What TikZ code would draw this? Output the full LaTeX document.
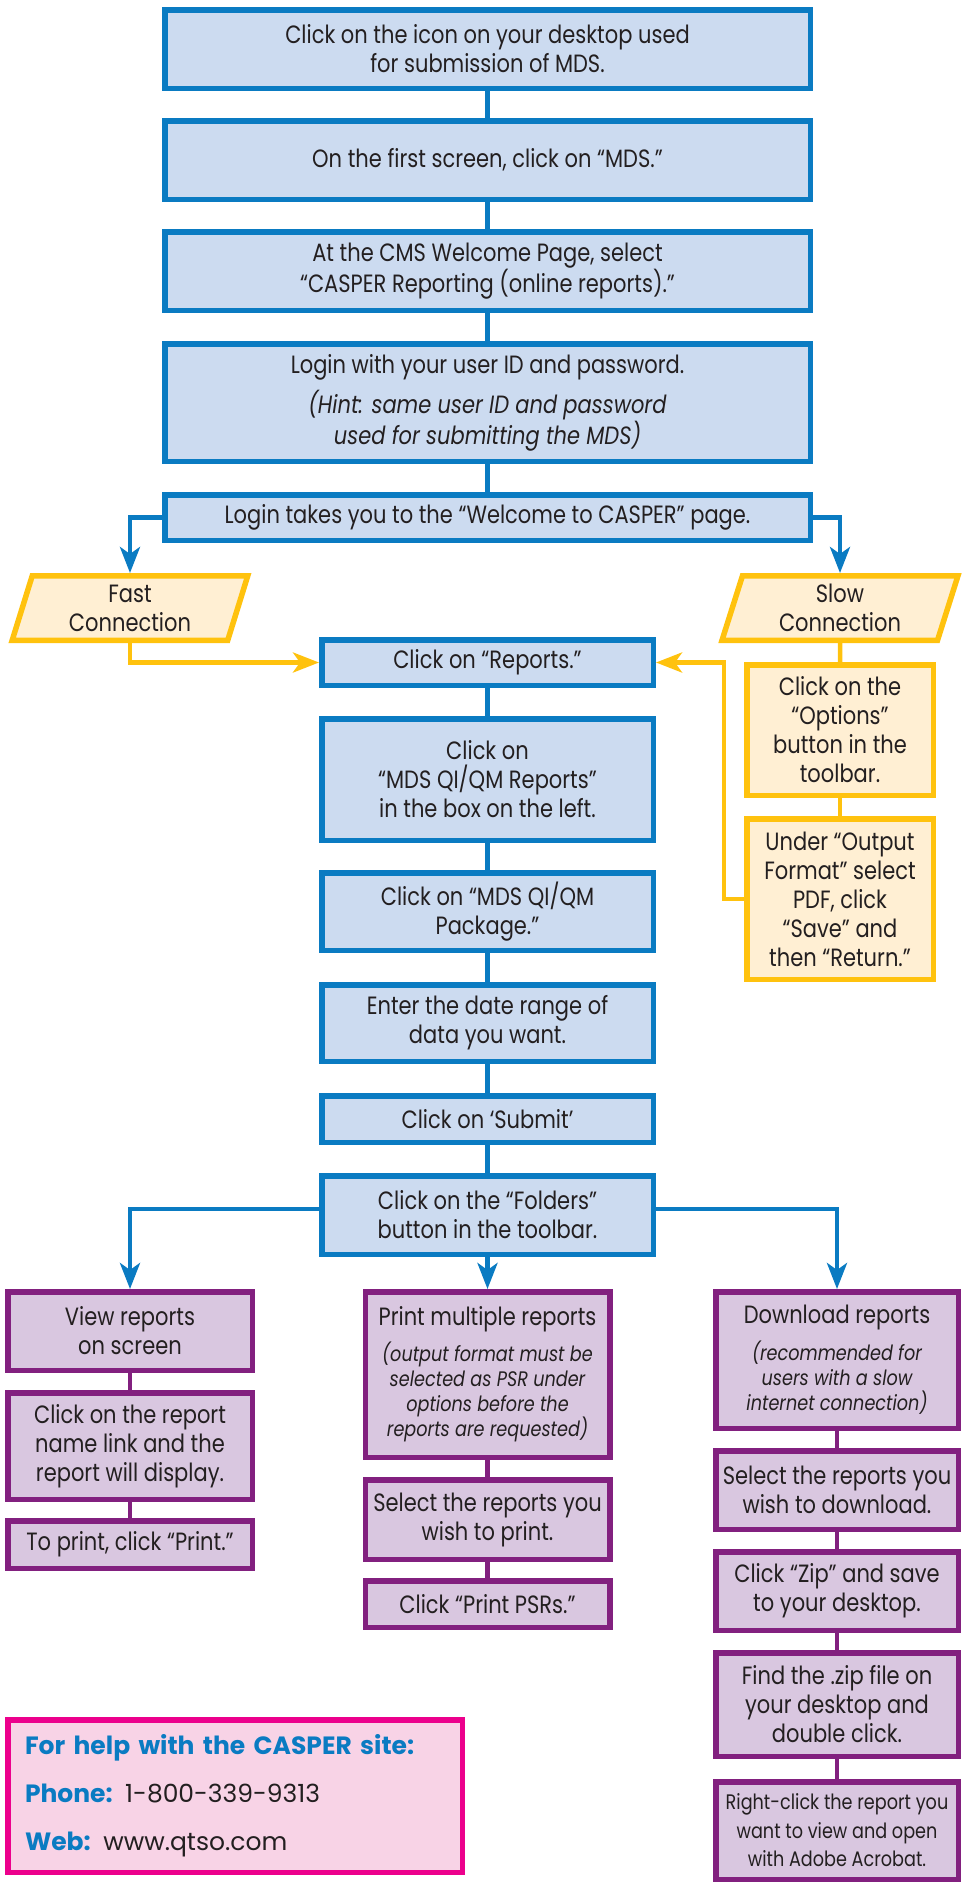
\documentclass[tikz,border=0pt]{standalone}
\usepackage{fontspec}
\setmainfont{Poppins}[FakeStretch=0.84]
\newfontfamily\helpfamily{Poppins}[FakeStretch=1.0]
\usetikzlibrary{positioning, arrows.meta, shapes.geometric}

\definecolor{casperblue}{HTML}{0A7BC2}
\definecolor{bluefill}{HTML}{CCDBF0}
\definecolor{gold}{HTML}{FFC20E}
\definecolor{goldfill}{HTML}{FFEFD3}
\definecolor{plum}{HTML}{82207F}
\definecolor{plumfill}{HTML}{D9C7E0}
\definecolor{helppink}{HTML}{EC008C}
\definecolor{helpfill}{HTML}{F8D3E6}
\definecolor{ink}{HTML}{231F20}

\newcommand{\stepfont}{\fontsize{25}{29}\selectfont}
\newcommand{\hintfont}{\fontsize{21}{25}\selectfont\itshape}
\newcommand{\smallstep}{\fontsize{21}{28.5}\selectfont}
\newcommand{\helplabel}[1]{\textbf{\textcolor{casperblue}{#1}}}

\tikzset{every node/.style={text=ink, font=\stepfont, align=center, inner sep=0pt}, % Text of every box
bluebox/.style={ % Steps up to the Welcome page
draw=casperblue, fill=bluefill, line width=5.5pt, minimum width=645.5pt},
narrowbox/.style={bluebox, minimum width=331.5pt}, % Steps of the report part
speedbox/.style={ % Fast / slow connection
trapezium, trapezium left angle=75, trapezium right angle=105, trapezium stretches=true,
draw=gold, fill=goldfill, line width=5.5pt, minimum width=236pt, minimum height=64.5pt},
optionbox/.style={draw=gold, fill=goldfill, line width=5.5pt, minimum width=186.5pt},
folderbox/.style={draw=plum, fill=plumfill, line width=5.5pt, minimum width=244.5pt},
bluelink/.style={draw=casperblue, line width=4.5pt},
bluearrow/.style={bluelink, -{Stealth[length=26pt, width=20pt, inset=7pt]}},
goldlink/.style={draw=gold, line width=4.5pt},
goldarrow/.style={goldlink, -{Stealth[length=26pt, width=20pt, inset=7pt]}},
plumlink/.style={draw=plum, line width=4.5pt}}

\begin{document}
\begin{tikzpicture}
    \useasboundingbox (0pt,0pt) rectangle (970pt,-1883pt);

    \node[bluebox, minimum height=78.5pt] (b1) at (487.5pt,-49pt) {Click on the icon on your desktop used\\for submission of MDS.};
    \node[bluebox, minimum height=78.5pt, below=27pt of b1] (b2) {On the first screen, click on “MDS.”};
    \node[bluebox, minimum height=78.5pt, below=27pt of b2] (b3) {At the CMS Welcome Page, select\\“CASPER Reporting (online reports).”};
    \node[bluebox, minimum height=117.5pt, below=28pt of b3] (b4) {Login with your user ID and password.\\[9pt]\textit{(Hint: same user ID and password}\\\textit{used for submitting the MDS)}};
    \node[bluebox, minimum height=45.5pt, below=28pt of b4] (b5) {Login takes you to the “Welcome to CASPER” page.};

    \node[speedbox, below=30pt of b5.south west, xshift=-32pt] (fast) {Fast\\Connection};
    \node[speedbox, below=30pt of b5.south east, xshift=27pt] (slow) {Slow\\Connection};
    \node[optionbox, minimum height=130.5pt, below=19pt of slow] (opt1) {Click on the\\“Options”\\button in the\\toolbar.};
    \node[optionbox, minimum height=160.5pt, below=18pt of opt1] (opt2) {Under “Output\\Format” select\\PDF, click\\“Save” and\\then “Return.”};

    \node[narrowbox, minimum height=45.5pt, below=94pt of b5] (b6) {Click on “Reports.”};
    \node[narrowbox, minimum height=121.5pt, below=28pt of b6] (b7) {Click on\\“MDS QI/QM Reports”\\in the box on the left.};
    \node[narrowbox, minimum height=77.5pt, below=27pt of b7] (b8) {Click on “MDS QI/QM\\Package.”};
    \node[narrowbox, minimum height=76.5pt, below=29pt of b8] (b9) {Enter the date range of\\data you want.};
    \node[narrowbox, minimum height=46.5pt, below=29pt of b9] (b10) {Click on ‘Submit’};
    \node[narrowbox, minimum height=78.5pt, below=28pt of b10] (b11) {Click on the “Folders”\\button in the toolbar.};

    \node[folderbox, minimum height=165.5pt, below=32pt of b11] (p1) {Print multiple reports\\[7pt]{\hintfont (output format must be}\\[-4pt]{\hintfont selected as PSR under}\\[-4pt]{\hintfont options before the}\\[-4pt]{\hintfont reports are requested)}};
    \node[folderbox, minimum height=79.5pt, below=17pt of p1] (p2) {Select the reports you\\wish to print.};
    \node[folderbox, minimum height=46.5pt, below=16pt of p2] (p3) {Click “Print PSRs.”};

    \node[folderbox, minimum height=78.5pt, anchor=north] (v1) at ([xshift=-357.5pt]p1.north) {View reports\\on screen};
    \node[folderbox, minimum height=106.5pt, below=17pt of v1] (v2) {Click on the report\\name link and the\\report will display.};
    \node[folderbox, minimum height=47.5pt, below=16pt of v2] (v3) {To print, click “Print.”};

    \node[folderbox, minimum width=242.5pt, minimum height=136.5pt, anchor=north] (d1) at ([xshift=349.5pt]p1.north) {Download reports\\[8pt]{\hintfont (recommended for}\\[-4pt]{\hintfont users with a slow}\\[-4pt]{\hintfont internet connection)}};
    \node[folderbox, minimum width=242.5pt, minimum height=78.5pt, below=17pt of d1] (d2) {Select the reports you\\wish to download.};
    \node[folderbox, minimum width=242.5pt, minimum height=78.5pt, below=17pt of d2] (d3) {Click “Zip” and save\\to your desktop.};
    \node[folderbox, minimum width=242.5pt, minimum height=103.5pt, below=17pt of d3] (d4) {Find the .zip file on\\your desktop and\\double click.};
    \node[folderbox, minimum width=242.5pt, minimum height=97.5pt, below=20pt of d4, font=\smallstep] (d5) {Right-click the report you\\want to view and open\\with Adobe Acrobat.};

    \node[draw=helppink, fill=helpfill, line width=5.5pt, minimum width=454.5pt, minimum height=152.5pt, text width=420pt, align=left, font=\helpfamily\fontsize{25}{29}\selectfont] (help) at (235pt,-1796pt) {\helplabel{For help with the CASPER site:}\\[19pt]\helplabel{Phone:} 1-800-339-9313\\[19pt]\helplabel{Web:} www.qtso.com};

    \draw[bluelink] (b1) -- (b2);
    \draw[bluelink] (b2) -- (b3);
    \draw[bluelink] (b3) -- (b4);
    \draw[bluelink] (b4) -- (b5);
    \draw[bluearrow] (b5.west) -| (fast.north);
    \draw[bluearrow] (b5.east) -| (slow.north);
    \draw[goldarrow] (fast.south) |- (b6.west);
    \draw[goldlink] (slow) -- (opt1);
    \draw[goldlink] (opt1) -- (opt2);
    \draw[goldarrow] (opt2.west) -- ++(-20pt,0) |- (b6.east);
    \draw[bluelink] (b6) -- (b7);
    \draw[bluelink] (b7) -- (b8);
    \draw[bluelink] (b8) -- (b9);
    \draw[bluelink] (b9) -- (b10);
    \draw[bluelink] (b10) -- (b11);
    \draw[bluearrow] ([yshift=6pt]b11.west) -| (v1.north);
    \draw[bluearrow] (b11) -- (p1);
    \draw[bluearrow] ([yshift=6pt]b11.east) -| (d1.north);
    \draw[plumlink] (v1) -- (v2);
    \draw[plumlink] (v2) -- (v3);
    \draw[plumlink] (p1) -- (p2);
    \draw[plumlink] (p2) -- (p3);
    \draw[plumlink] (d1) -- (d2);
    \draw[plumlink] (d2) -- (d3);
    \draw[plumlink] (d3) -- (d4);
    \draw[plumlink] (d4) -- (d5);

\end{tikzpicture}
\end{document}
